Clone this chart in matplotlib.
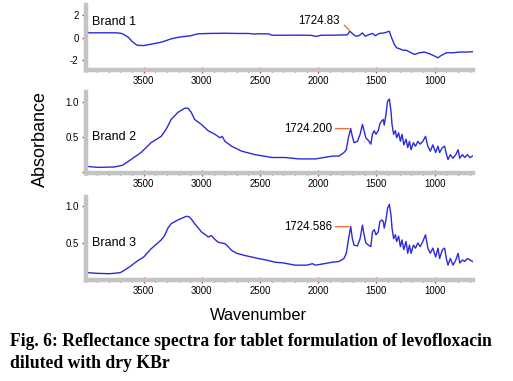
import numpy as np
import matplotlib
matplotlib.use('Agg')
import matplotlib.pyplot as plt
import matplotlib.ticker as mticker

# ---- data ----
aWn_1 = [3990, 3850, 3754, 3725, 3690, 3667, 3630, 3600, 3570, 3552, 3500, 3437, 3400, 3350,
         3300, 3264, 3220, 3177, 3100, 3033, 2950, 2800, 2700, 2600, 2543, 2520, 2427, 2400,
         2384, 2300, 2200, 2100, 2052, 2024, 1990, 1980, 1850, 1750, 1729, 1707, 1678, 1649,
         1620, 1597, 1562, 1534, 1510, 1476, 1433, 1389, 1375, 1346, 1326, 1303, 1274, 1245,
         1202, 1173, 1130, 1087, 1043, 1000, 971, 942, 899, 842, 784, 726, 674]
aAbs_1 = [0.42, 0.42, 0.42, 0.41, 0.36, 0.25, 0.0, -0.35, -0.6, -0.7, -0.72, -0.6, -0.52, -0.42,
          -0.25, -0.12, -0.02, 0.06, 0.15, 0.33, 0.36, 0.38, 0.36, 0.36, 0.3, 0.34, 0.32, 0.22,
          0.2, 0.2, 0.21, 0.2, 0.18, 0.1, 0.16, 0.2, 0.21, 0.24, 0.56, 0.36, 0.12, 0.16,
          0.41, 0.12, 0.27, 0.36, 0.16, 0.36, 0.41, 0.56, 0.12, -0.62, -0.92, -1.0, -1.13, -1.13,
          -1.36, -1.51, -1.36, -1.30, -1.45, -1.66, -1.81, -1.6, -1.36, -1.36, -1.30, -1.30, -1.27]

aWn_2 = [3999, 3898, 3753, 3682, 3610, 3523, 3437, 3350, 3307, 3264, 3206, 3148, 3119, 3091,
         3062, 3004, 2946, 2888, 2845, 2825, 2802, 2744, 2658, 2542, 2398, 2283, 2168, 2023,
         1880, 1822, 1779, 1759, 1741, 1721, 1707, 1692, 1663, 1640, 1620, 1606, 1591, 1568,
         1548, 1534, 1519, 1504, 1484, 1470, 1453, 1441, 1433, 1418, 1404, 1389, 1375, 1366,
         1352, 1337, 1326, 1309, 1294, 1280, 1265, 1245, 1231, 1216, 1202, 1182, 1164, 1144,
         1124, 1101, 1078, 1058, 1037, 1015, 991, 971, 957, 933, 914, 899, 885, 865, 842, 818,
         798, 784, 761, 741, 718, 697, 674]
aAbs_2 = [0.086, 0.07, 0.075, 0.10, 0.18, 0.28, 0.42, 0.51, 0.61, 0.75, 0.85, 0.91, 0.91, 0.85,
          0.75, 0.68, 0.59, 0.54, 0.49, 0.51, 0.44, 0.37, 0.30, 0.25, 0.21, 0.21, 0.19, 0.19,
          0.23, 0.23, 0.28, 0.32, 0.49, 0.62, 0.51, 0.42, 0.44, 0.54, 0.68, 0.59, 0.49, 0.45,
          0.40, 0.54, 0.59, 0.54, 0.59, 0.69, 0.73, 0.75, 0.67, 0.82, 1.01, 1.04, 0.87, 0.68,
          0.54, 0.59, 0.49, 0.56, 0.44, 0.54, 0.39, 0.47, 0.35, 0.44, 0.32, 0.42, 0.37, 0.44,
          0.40, 0.44, 0.51, 0.37, 0.30, 0.39, 0.28, 0.37, 0.28, 0.35, 0.37, 0.26, 0.18, 0.25, 0.20, 0.25,
          0.32, 0.20, 0.25, 0.21, 0.25, 0.21, 0.23]

aWn_3 = [3990, 3900, 3800, 3754, 3700, 3667, 3610, 3552, 3500, 3437, 3400, 3350, 3320, 3292,
         3264, 3206, 3148, 3130, 3105, 3080, 3062, 3030, 3004, 2960, 2946, 2918, 2890, 2860,
         2830, 2802, 2780, 2745, 2700, 2629, 2514, 2450, 2370, 2300, 2197, 2100, 2050, 2024,
         1950, 1879, 1822, 1779, 1759, 1741, 1721, 1707, 1692, 1663, 1640, 1620, 1606, 1591,
         1568, 1548, 1534, 1519, 1504, 1484, 1470, 1453, 1441, 1433, 1418, 1404, 1389, 1375,
         1366, 1352, 1337, 1326, 1309, 1294, 1280, 1265, 1245, 1231, 1216, 1202, 1182, 1164,
         1144, 1124, 1101, 1078, 1058, 1037, 1015, 991, 971, 957, 933, 914, 899, 885, 865, 842,
         818, 798, 784, 761, 741, 718, 697, 674]
aAbs_3 = [0.10, 0.09, 0.085, 0.09, 0.10, 0.13, 0.19, 0.26, 0.31, 0.42, 0.47, 0.54, 0.60, 0.70,
          0.76, 0.81, 0.85, 0.86, 0.85, 0.80, 0.76, 0.70, 0.65, 0.60, 0.58, 0.60, 0.55, 0.51,
          0.50, 0.49, 0.46, 0.40, 0.36, 0.33, 0.29, 0.27, 0.24, 0.23, 0.20, 0.20, 0.22, 0.20,
          0.22, 0.24, 0.25, 0.29, 0.36, 0.54, 0.72, 0.56, 0.47, 0.46, 0.56, 0.74, 0.61, 0.50,
          0.47, 0.45, 0.65, 0.68, 0.61, 0.65, 0.79, 0.81, 0.79, 0.70, 0.81, 0.97, 1.02, 0.88,
          0.70, 0.56, 0.61, 0.52, 0.59, 0.45, 0.54, 0.41, 0.52, 0.36, 0.47, 0.36, 0.47, 0.43,
          0.50, 0.45, 0.52, 0.61, 0.43, 0.36, 0.43, 0.31, 0.43, 0.29, 0.41, 0.43, 0.29, 0.20, 0.29, 0.20,
          0.27, 0.36, 0.23, 0.27, 0.25, 0.29, 0.27, 0.25]

aBrand = ['Brand 1', 'Brand 2', 'Brand 3']
aPeak_wn = [1724.83, 1724.200, 1724.586]
aPeak_label = ['1724.83', '1724.200', '1724.586']
aPeak_abs = [0.56, 0.62, 0.72]

aXticks = [3500, 3000, 2500, 2000, 1500, 1000]
aYticks = [[-2, 0, 2], [0, 0.5, 1.0], [0.5, 1.0]]
aYticklabels = [['-2', '0', '2'], ['', '0.5', '1.0'], ['0.5', '1.0']]
aYlim = [(-2.9, 2.9), (-0.01, 1.14), (0.0, 1.12)]

aWn = [aWn_1, aWn_2, aWn_3]
aAbs = [aAbs_1, aAbs_2, aAbs_3]

W, H = 513, 381
fig = plt.figure(figsize=(W / 100, H / 100), dpi=100)

# axes boxes in pixels: left, top, right, bottom
aBox = [(85.5, 5, 473, 70), (85.5, 92, 473, 173), (85.5, 197, 473, 280)]
aBrand_y = [0.74, 0.44, 0.45]
# leader line end (pixels from peak) and label offset (pixels from peak)
aLine_off = [(-6, 6), (-15, 0), (-15, 0)]
aText_off = [(-31, 10, 'center'), (-18, 0, 'right'), (-18, 0, 'right')]

sBlue = '#2b2bd8'
sGray = '#c4c4c4'
sRed = '#e02a2a'
sOrange = '#e8763c'

for i in range(3):
    l, t, r, b = aBox[i]
    ax = fig.add_axes([l / W, 1 - b / H, (r - l) / W, (b - t) / H])
    ax.plot(aWn[i], aAbs[i], color=sBlue, lw=1.0)
    ax.set_xlim(4000, 670)
    ax.set_ylim(*aYlim[i])
    for s in ['top', 'right']:
        ax.spines[s].set_visible(False)
    for s in ['left', 'bottom']:
        ax.spines[s].set_color(sGray)
        ax.spines[s].set_linewidth(3.2)
    ax.set_xticks(aXticks)
    ax.xaxis.set_minor_locator(mticker.MultipleLocator(100))
    ax.set_yticks(aYticks[i])
    ax.set_yticklabels(aYticklabels[i])
    ax.tick_params(axis='both', which='both', colors=sRed, labelcolor='black',
                   labelsize=6.9, width=1.0)
    ax.tick_params(axis='x', which='major', direction='inout', length=5, pad=2)
    ax.tick_params(axis='x', which='minor', direction='inout', length=3)
    ax.tick_params(axis='y', which='major', direction='out', length=3, pad=2)
    for lbl in ax.get_xticklabels() + ax.get_yticklabels():
        lbl.set_fontfamily('Liberation Sans')
    ax.text(0.018, aBrand_y[i], aBrand[i], transform=ax.transAxes, fontsize=9,
            family='Liberation Sans', va='center', ha='left')
    # leader line from the peak
    ax.annotate('', xy=(aPeak_wn[i], aPeak_abs[i]), xytext=aLine_off[i],
                textcoords='offset pixels',
                arrowprops=dict(arrowstyle='-', color=sOrange, lw=1.0, shrinkA=0, shrinkB=1))
    dx, dy, ha = aText_off[i]
    ax.annotate(aPeak_label[i], xy=(aPeak_wn[i], aPeak_abs[i]), xytext=(dx, dy),
                textcoords='offset pixels', ha=ha, va='center', fontsize=8.3,
                family='Liberation Sans')

fig.text(40 / W, 1 - 139 / H, 'Absorbance', rotation=90, ha='center', va='center',
         fontsize=13, family='Liberation Sans')
fig.text(258 / W, 1 - 316 / H, 'Wavenumber', ha='center', va='center',
         fontsize=11.8, family='Liberation Sans')

fig.text(10 / W, 1 - 342 / H, 'Fig. 6: Reflectance spectra for tablet formulation of levofloxacin',
         ha='left', va='center', fontsize=12.7, family='Liberation Serif', weight='bold')
fig.text(10 / W, 1 - 364 / H, 'diluted with dry KBr',
         ha='left', va='center', fontsize=12.7, family='Liberation Serif', weight='bold')

fig.savefig('out.png', dpi=100)
